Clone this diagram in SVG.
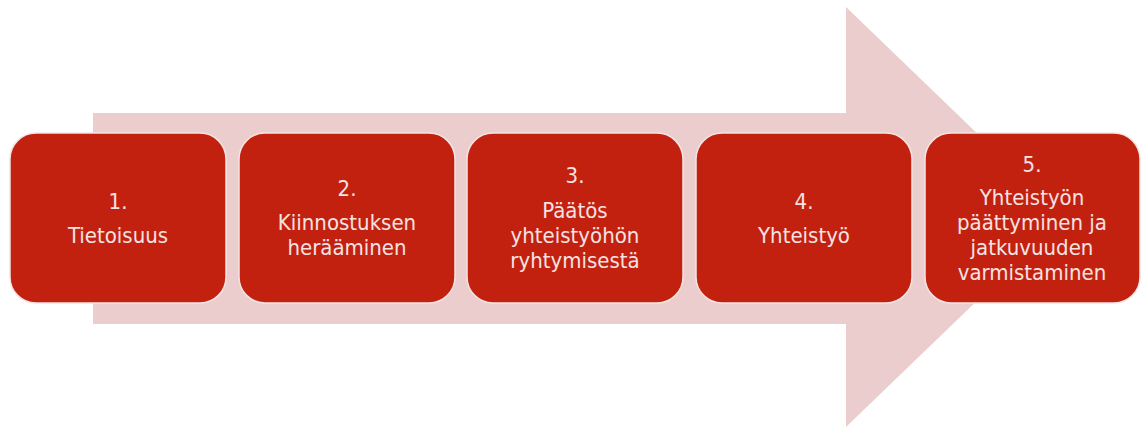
<svg xmlns="http://www.w3.org/2000/svg" width="1141" height="427" viewBox="0 0 1141 427">
  <style>
    .step rect { fill: #C3210F; stroke: #F4E3E3; stroke-width: 1.5; }
    .step text { font-family: "DejaVu Sans Condensed", "DejaVu Sans", "Liberation Sans", sans-serif; font-stretch: condensed; font-size: 22px; fill: #F5E2E2; text-anchor: middle; }
  </style>
  <rect width="1141" height="427" fill="#FFFFFF"/>

  <!-- background process arrow -->
  <g id="arrow">
    <path d="M93 113 H846 V7 L1064 217 L846 427 V324 H93 Z" fill="#EBCDCD"/>
  </g>

  <g id="connectors"></g>

  <g id="step1" class="step">
    <rect x="10" y="133" width="216" height="170" rx="26"/>
    <text x="118" y="209">1.</text>
    <text x="118" y="243">Tietoisuus</text>
  </g>

  <g id="step2" class="step">
    <rect x="239" y="133" width="216" height="170" rx="26"/>
    <text x="347" y="196">2.</text>
    <text x="347" y="230">Kiinnostuksen</text>
    <text x="347" y="255">herääminen</text>
  </g>

  <g id="step3" class="step">
    <rect x="467" y="133" width="216" height="170" rx="26"/>
    <text x="575" y="183">3.</text>
    <text x="575" y="218">Päätös</text>
    <text x="575" y="243">yhteistyöhön</text>
    <text x="575" y="268">ryhtymisestä</text>
  </g>

  <g id="step4" class="step">
    <rect x="696" y="133" width="216" height="170" rx="26"/>
    <text x="804" y="209">4.</text>
    <text x="804" y="243">Yhteistyö</text>
  </g>

  <g id="step5" class="step">
    <rect x="925" y="133" width="215" height="170" rx="26"/>
    <text x="1032" y="172">5.</text>
    <text x="1032" y="205">Yhteistyön</text>
    <text x="1032" y="230">päättyminen ja</text>
    <text x="1032" y="255">jatkuvuuden</text>
    <text x="1032" y="280">varmistaminen</text>
  </g>
</svg>
